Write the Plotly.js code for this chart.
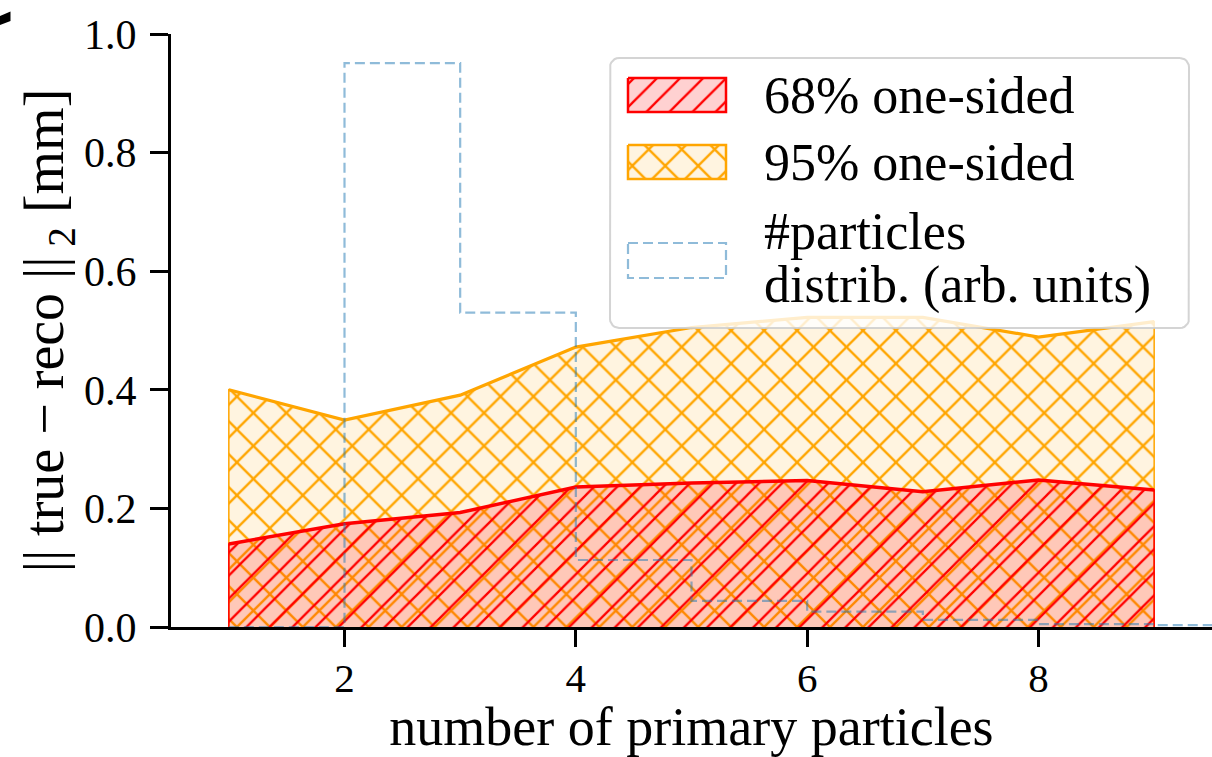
<!DOCTYPE html>
<html>
<head>
<meta charset="utf-8">
<script src="https://cdn.plot.ly/plotly-3.0.1.min.js"></script>
<style>
  html, body { margin: 0; padding: 0; background: #ffffff; }
  #chart { width: 1212px; height: 757px; }
</style>
</head>
<body>
<div id="chart"></div>
<script>
// Number of primary particles in the event
const nPrimary = [1, 2, 3, 4, 5, 6, 7, 8, 9];
// One-sided 68% quantile of ||true - reco||_2 [mm]
const q68 = [0.140, 0.174, 0.193, 0.236, 0.243, 0.247, 0.228, 0.248, 0.231];
// One-sided 95% quantile of ||true - reco||_2 [mm]
const q95 = [0.400, 0.349, 0.391, 0.472, 0.505, 0.522, 0.522, 0.489, 0.515];
// Multiplicity distribution (arbitrary units): bin edges and bin heights
const binEdges = [1, 2, 3, 4, 5, 6, 7, 8, 9, 10];
const binHeights = [0.0, 0.951, 0.530, 0.113, 0.044, 0.026, 0.012, 0.005, 0.003];
// Axis ticks
const xTicks = [2, 4, 6, 8];
const yTicks = [0.0, 0.2, 0.4, 0.6, 0.8, 1.0];
const yTickText = ['0.0', '0.2', '0.4', '0.6', '0.8', '1.0'];
// Text
const xTitle = 'number of primary particles';
const yTitle = '|| true \u2212 reco ||<sub> 2</sub> [mm]';
const legendLabels = ['68% one-sided', '95% one-sided', '#particles', 'distrib. (arb. units)'];

// ---- styling / geometry -------------------------------------------------
const FONT = '"Liberation Serif", "Times New Roman", "DejaVu Serif", serif';
const W = 1212, H = 757;
const M = { l: 171, r: 0, t: 34, b: 130 };
const RED = 'rgb(255,0,0)';
const ORANGE = 'rgb(255,165,0)';
const RED_BG = 'rgba(255,0,0,0.18)';
const ORANGE_BG = 'rgba(255,165,0,0.12)';
const HIST = 'rgba(31,119,180,0.5)';
const redHatch = { shape: '/', size: 16.3, solidity: 0.14, fgcolor: RED, fgopacity: 1, bgcolor: RED_BG, fillmode: 'replace' };
const orangeHatch = { shape: 'x', size: 23.3, solidity: 0.19, fgcolor: ORANGE, fgopacity: 1, bgcolor: ORANGE_BG, fillmode: 'replace' };

// legend frame laid out in screen pixels (drawn on an overlay subplot whose
// axes map 1:1 onto pixels of the figure)
const LEG = {
  box: [610, 58, 1189, 328], radius: 9,
  patchX: [628, 726],
  patchY: [[78, 112], [145, 179], [243, 278]],
  textX: 762,
  textY: [95, 162, 231, 285],
  fontSize: 52
};

// closed polygon: zero baseline at both ends, band value in between
function band(xs, ys) {
  return {
    x: [xs[0]].concat(xs, [xs[xs.length - 1]]),
    y: [0].concat(ys, [0])
  };
}

// rounded rectangle outline as a list of points
function roundedRect(x0, y0, x1, y1, r) {
  const px = [], py = [];
  const corners = [
    [x1 - r, y0 + r, -Math.PI / 2, 0],
    [x1 - r, y1 - r, 0, Math.PI / 2],
    [x0 + r, y1 - r, Math.PI / 2, Math.PI],
    [x0 + r, y0 + r, Math.PI, 1.5 * Math.PI]
  ];
  corners.forEach(([cx, cy, a0, a1]) => {
    for (let k = 0; k <= 6; k++) {
      const a = a0 + (a1 - a0) * k / 6;
      px.push(cx + r * Math.cos(a));
      py.push(cy + r * Math.sin(a));
    }
  });
  px.push(px[0]); py.push(py[0]);
  return { x: px, y: py };
}

function rectPts(x0, y0, x1, y1) {
  return { x: [x0, x1, x1, x0, x0], y: [y0, y0, y1, y1, y0] };
}

const b95 = band(nPrimary, q95);
const b68 = band(nPrimary, q68);

// step outline of the multiplicity histogram
const histX = binEdges.slice();
const histY = binHeights.concat([binHeights[binHeights.length - 1]]);

const traces = [
  { type: 'scatter', mode: 'lines', x: b95.x, y: b95.y, fill: 'toself',
    fillcolor: ORANGE_BG, fillpattern: orangeHatch,
    line: { color: ORANGE, width: 1.5 }, hoverinfo: 'skip', showlegend: false },
  { type: 'scatter', mode: 'lines', x: nPrimary, y: q95,
    line: { color: ORANGE, width: 3.2 }, hoverinfo: 'skip', showlegend: false },
  { type: 'scatter', mode: 'lines', x: b68.x, y: b68.y, fill: 'toself',
    fillcolor: RED_BG, fillpattern: redHatch,
    line: { color: RED, width: 1.5 }, hoverinfo: 'skip', showlegend: false },
  { type: 'scatter', mode: 'lines', x: nPrimary, y: q68,
    line: { color: RED, width: 3.5 }, hoverinfo: 'skip', showlegend: false },
  { type: 'scatter', mode: 'lines', x: histX, y: histY,
    line: { color: HIST, width: 2.2, shape: 'hv', dash: '10px,5px' },
    hoverinfo: 'skip', showlegend: false }
];

// legend frame and keys
const frame = roundedRect(LEG.box[0], LEG.box[1], LEG.box[2], LEG.box[3], LEG.radius);
traces.push({ type: 'scatter', mode: 'lines', xaxis: 'x2', yaxis: 'y2', x: frame.x, y: frame.y,
  fill: 'toself', fillcolor: 'rgba(255,255,255,0.8)',
  line: { color: 'rgba(204,204,204,0.85)', width: 2 }, hoverinfo: 'skip', showlegend: false });
const keyStyles = [
  { fill: 'toself', fillcolor: RED_BG, fillpattern: redHatch, line: { color: RED, width: 2.5 } },
  { fill: 'toself', fillcolor: ORANGE_BG, fillpattern: orangeHatch, line: { color: ORANGE, width: 2.5 } },
  { fill: 'none', line: { color: HIST, width: 2.2, dash: '10px,5px' } }
];
keyStyles.forEach((st, i) => {
  const r = rectPts(LEG.patchX[0], LEG.patchY[i][0], LEG.patchX[1], LEG.patchY[i][1]);
  traces.push(Object.assign({ type: 'scatter', mode: 'lines', xaxis: 'x2', yaxis: 'y2',
    x: r.x, y: r.y, hoverinfo: 'skip', showlegend: false }, st));
});

const annotations = legendLabels.map((t, i) => ({
  xref: 'x2', yref: 'y2', x: LEG.textX, y: LEG.textY[i], text: t,
  xanchor: 'left', yanchor: 'middle', showarrow: false,
  font: { family: FONT, size: LEG.fontSize, color: '#000' }
}));

// pixel -> paper helpers for the small mark at the top-left corner
const pw = W - M.l - M.r, ph = H - M.t - M.b;
const pxX = X => (X - M.l) / pw;
const pxY = Y => (H - M.b - Y) / ph;
const cornerPath = 'M' + pxX(0) + ',' + pxY(16) + ' L' + pxX(10.5) + ',' + pxY(11.5) +
  ' L' + pxX(10.5) + ',' + pxY(21) + ' L' + pxX(0) + ',' + pxY(25) + ' Z';

const layout = {
  width: W, height: H,
  margin: M,
  paper_bgcolor: '#ffffff', plot_bgcolor: 'rgba(0,0,0,0)',
  font: { family: FONT, color: '#000' },
  showlegend: false,
  xaxis: {
    range: [0.5, 9.5], tickvals: xTicks, ticktext: xTicks.map(String),
    ticks: 'outside', ticklen: 17, tickwidth: 3, tickcolor: '#000',
    ticklabelstandoff: -4,
    showline: true, linecolor: '#000', linewidth: 3,
    showgrid: false, zeroline: false,
    tickfont: { family: FONT, size: 41, color: '#000' },
    title: { text: xTitle, font: { family: FONT, size: 54, color: '#000' }, standoff: 10 },
    automargin: false, fixedrange: true
  },
  yaxis: {
    range: [0, 1], tickvals: yTicks, ticktext: yTickText,
    ticks: 'outside', ticklen: 18, tickwidth: 3, tickcolor: '#000',
    ticklabelstandoff: 5,
    showline: true, linecolor: '#000', linewidth: 3,
    showgrid: false, zeroline: false,
    tickfont: { family: FONT, size: 42, color: '#000' },
    title: { text: yTitle, font: { family: FONT, size: 56, color: '#000' }, standoff: 3 },
    automargin: false, fixedrange: true
  },
  xaxis2: { overlaying: 'x', range: [M.l, W - M.r], visible: false, fixedrange: true },
  yaxis2: { overlaying: 'y', range: [H - M.b, M.t], visible: false, fixedrange: true },
  annotations: annotations,
  shapes: [
    { type: 'path', xref: 'paper', yref: 'paper', path: cornerPath,
      fillcolor: '#000', line: { width: 0 }, layer: 'above' }
  ]
};

Plotly.newPlot('chart', traces, layout, { staticPlot: true, displayModeBar: false });
</script>
</body>
</html>
